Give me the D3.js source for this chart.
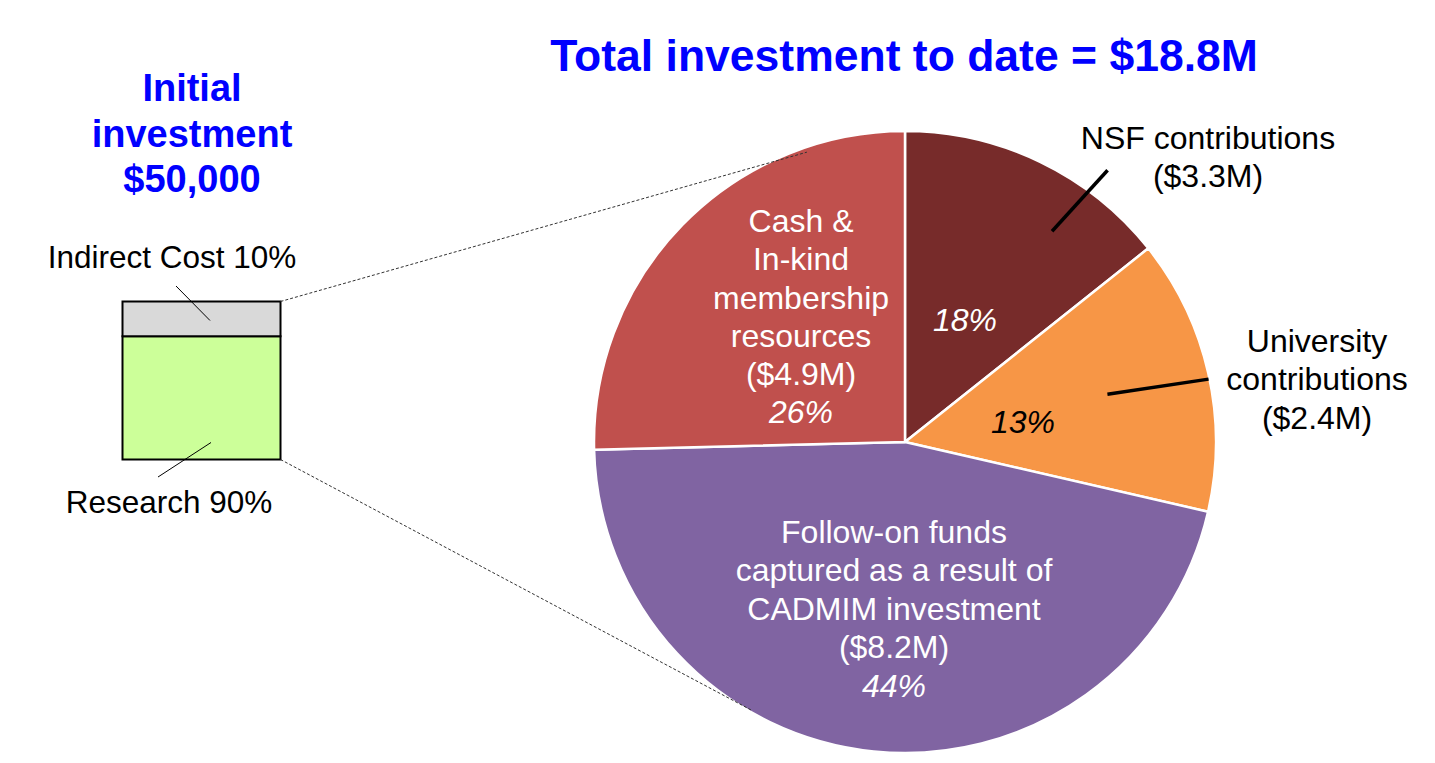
<!DOCTYPE html>
<html>
<head>
<meta charset="utf-8">
<script src="https://cdn.jsdelivr.net/npm/d3@7"></script>
<style>
  html, body { margin: 0; padding: 0; background: #fff; }
  svg { display: block; font-family: "Liberation Sans", Arial, sans-serif; }
</style>
</head>
<body>
<div id="chart"></div>
<script>
// Pie slices, clockwise from 12 o'clock.
const sliceNames = ["NSF", "University", "Follow-on", "Cash"];
// share of the circle each slice takes in the picture (degrees)
const sliceShares = [14.3, 14.3, 46.0, 25.4];
const slicePercents = ["18%", "13%", "44%", "26%"];
const sliceAmounts = ["$3.3M", "$2.4M", "$8.2M", "$4.9M"];
const sliceColors = ["#772b2a", "#f79646", "#8064a2", "#c0504d"];

// Initial investment box, bottom to top.
const boxNames = ["Research 90%", "Indirect Cost 10%"];
const boxShares = [78, 22];  // drawn heights
const boxColors = ["#ccff99", "#d9d9d9"];

const width = 1435, height = 763;
const cx = 905, cy = 442, r = 311;

const svg = d3.select("#chart").append("svg")
    .attr("width", width)
    .attr("height", height);

// point on the pie at angle (deg, clockwise from top) and distance d
function polar(deg, d) {
  const a = deg * Math.PI / 180;
  return [cx + d * Math.sin(a), cy - d * Math.cos(a)];
}

// ---- box on the left
let boxStack = [];
let acc = 0;
boxShares.forEach((v, i) => { boxStack.push({ y0: acc, y1: acc + v, i: i }); acc += v; });

const yBox = d3.scaleLinear().domain([0, 100]).range([459.5, 301.5]);
const boxX0 = 122.5, boxX1 = 280.5;

svg.append("g").selectAll("rect")
  .data(boxStack)
  .join("rect")
    .attr("x", boxX0)
    .attr("y", d => yBox(d.y1))
    .attr("width", boxX1 - boxX0)
    .attr("height", d => yBox(d.y0) - yBox(d.y1))
    .attr("fill", d => boxColors[d.i])
    .attr("stroke", "#000")
    .attr("stroke-width", 2);

// ---- pie
const pie = d3.pie().sort(null).value(d => d)
    .startAngle(0).endAngle(2 * Math.PI);
const arc = d3.arc().innerRadius(0).outerRadius(r);

svg.append("g")
    .attr("transform", `translate(${cx},${cy})`)
  .selectAll("path")
  .data(pie(sliceShares))
  .join("path")
    .attr("d", arc)
    .attr("fill", (d, i) => sliceColors[i])
    .attr("stroke", "#fff")
    .attr("stroke-width", 2.5)
    .attr("stroke-linejoin", "round");

// ---- dotted connectors from box to pie (drawn over the pie)
const conn = d3.line();
svg.append("path")
    .attr("d", conn([[boxX1, yBox(100)], polar(341.3, r - 5)]))
    .attr("fill", "none").attr("stroke", "#333").attr("stroke-width", 1)
    .attr("stroke-dasharray", "3,2");
svg.append("path")
    .attr("d", conn([[boxX1, yBox(0)], polar(209.6, r - 2)]))
    .attr("fill", "none").attr("stroke", "#333").attr("stroke-width", 1)
    .attr("stroke-dasharray", "3,2");

// ---- leader lines
function leader(p1, p2, w) {
  svg.append("line")
    .attr("x1", p1[0]).attr("y1", p1[1])
    .attr("x2", p2[0]).attr("y2", p2[1])
    .attr("stroke", "#000").attr("stroke-width", w);
}
leader(polar(34.9, 257), polar(36.7, 339), 3.5);   // NSF
leader(polar(76.7, 208), polar(78.3, 310), 3.5);   // University
leader([176, 286], [210, yBox(100) + 19], 1);       // Indirect
leader([158, 477], [211, yBox(0) - 17], 1);         // Research

// ---- text
function label(x, y, lines, opts) {
  const o = Object.assign({ size: 32, fill: "#000", weight: "normal", style: "normal", step: 38.3 }, opts);
  const t = svg.append("text")
    .attr("x", x).attr("y", y)
    .attr("text-anchor", "middle")
    .attr("font-size", o.size)
    .attr("font-weight", o.weight)
    .attr("font-style", o.style)
    .attr("fill", o.fill);
  lines.forEach((s, i) => {
    t.append("tspan").attr("x", x).attr("dy", i === 0 ? 0 : o.step).text(s);
  });
  return t;
}

label(904, 71, ["Total investment to date = $18.8M"], { size: 44.5, weight: "bold", fill: "#0000ff" });
label(192, 101, ["Initial", "investment", "$50,000"], { size: 38, weight: "bold", fill: "#0000ff", step: 45.5 });

label(172, 268, [boxNames[1]], { size: 31.5 });
label(169, 513, [boxNames[0]], { size: 31.5 });

label(1208, 149, ["NSF contributions", "(" + sliceAmounts[0] + ")"]);
label(1317, 352, ["University", "contributions", "(" + sliceAmounts[1] + ")"]);

label(801, 232, ["Cash &", "In-kind", "membership", "resources", "(" + sliceAmounts[3] + ")"], { fill: "#fff" });
label(801, 423, [slicePercents[3]], { fill: "#fff", style: "italic" });

label(894, 543, ["Follow-on funds", "captured as a result of", "CADMIM investment", "(" + sliceAmounts[2] + ")"], { fill: "#fff" });
label(894, 697, [slicePercents[2]], { fill: "#fff", style: "italic" });

label(965, 331, [slicePercents[0]], { fill: "#fff", style: "italic" });
label(1023, 433, [slicePercents[1]], { fill: "#000", style: "italic" });
</script>
</body>
</html>
